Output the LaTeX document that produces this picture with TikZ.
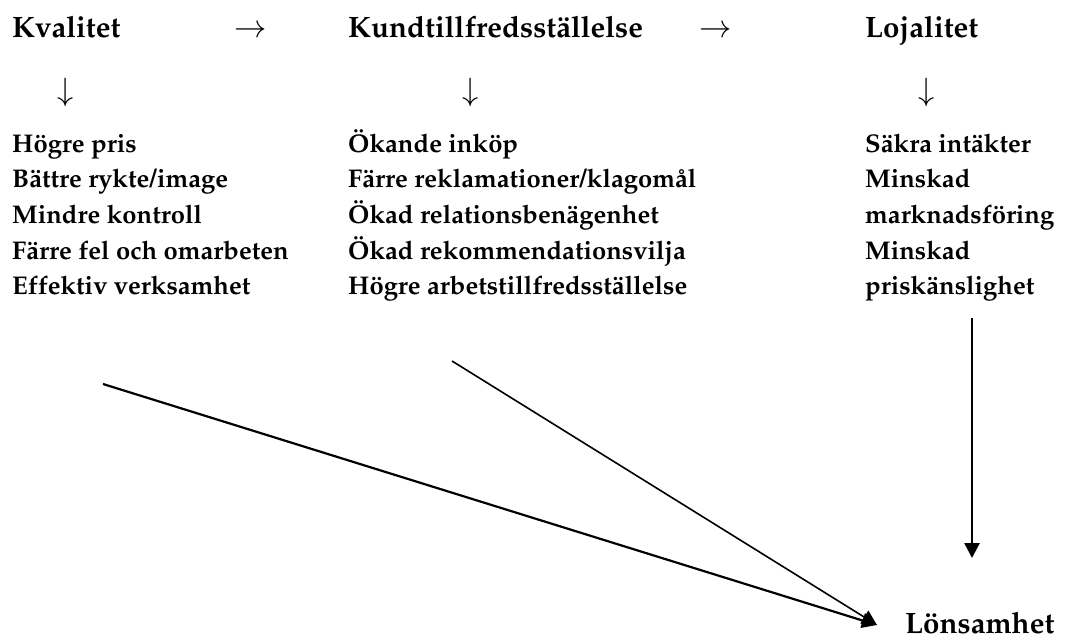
\documentclass[tikz,border=0pt]{standalone}
\usepackage[T1]{fontenc}
\usepackage{mathpazo}
\usetikzlibrary{arrows.meta}
\tikzset{
    txt_head/.style = {inner sep=0pt, anchor=base west, font=\fontsize{29.5}{35}\selectfont\bfseries},
    txt_list/.style = {inner sep=0pt, anchor=base west, font=\fontsize{25.6}{35.7}\selectfont\bfseries},
    txt_sym/.style = {inner sep=0pt, font=\fontsize{31}{36}\selectfont},
    conn_arrow/.style = {-{Triangle[length=15pt, width=15pt]}, line width=2.2pt}
}

\begin{document}
\begin{tikzpicture}[x=1pt, y=-1pt]
    \useasboundingbox (0,0) rectangle (1087,640);
    % headings
    \node [txt_head] (kval) at (12,37) {Kvalitet};
    \node [txt_head] (kund) at (348,37) {Kundtillfredsst\"allelse};
    \node [txt_head] (loj) at (865,37) {Lojalitet};
    \node [txt_head] (lons) at (905,633) {L\"onsamhet};
    % text arrows
    \node [txt_sym, anchor=base west] (kval_kund) at (234,37) {$\rightarrow$};
    \node [txt_sym, anchor=base west] (kund_loj) at (699,37) {$\rightarrow$};
    \node [txt_sym, anchor=base] (kval_down) at (66,100) {$\downarrow$};
    \node [txt_sym, anchor=base] (kund_down) at (471,100) {$\downarrow$};
    \node [txt_sym, anchor=base] (loj_down) at (927,100) {$\downarrow$};
    % lists
    \node [txt_list] (kval_list) at (12,152) {\begin{tabular}[t]{@{}l@{}}
        H\"ogre pris\\
        B\"attre rykte/image\\
        Mindre kontroll\\
        F\"arre fel och omarbeten\\
        Ef{}fektiv verksamhet
    \end{tabular}};
    \node [txt_list] (kund_list) at (348,152) {\begin{tabular}[t]{@{}l@{}}
        \"Okande ink\"op\\
        F\"arre reklamationer/klagom\aa l\\
        \"Okad relationsben\"agenhet\\
        \"Okad rekommendationsvilja\\
        H\"ogre arbetstillfredsst\"allelse
    \end{tabular}};
    \node [txt_list] (loj_list) at (865,152) {\begin{tabular}[t]{@{}l@{}}
        S\"akra int\"akter\\
        Minskad\\
        marknadsf\"oring\\
        Minskad\\
        prisk\"anslighet
    \end{tabular}};
    % connectors to Lönsamhet
    \coordinate (kval_src) at (103,384);
    \coordinate (kund_src) at (452,361);
    \coordinate (loj_src) at (972,318);
    \coordinate (lons_tip) at (877,625);
    \coordinate (loj_tip) at (972,558);
    \draw [conn_arrow] (kval_src) -- (lons_tip);
    \draw [conn_arrow, line width=1.6pt] (kund_src) -- (lons_tip);
    \draw [conn_arrow, line width=2.6pt] (loj_src) -- (loj_tip);
\end{tikzpicture}
\end{document}
